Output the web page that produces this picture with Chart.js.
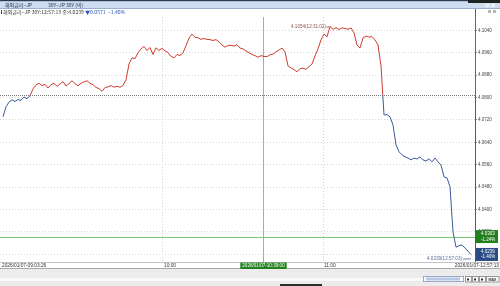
<!DOCTYPE html>
<html>
<head>
<meta charset="utf-8">
<script src="https://cdn.jsdelivr.net/npm/chart.js@4.4.1/dist/chart.umd.min.js"></script>
<style>
  html, body { margin: 0; padding: 0; background: #fff; }
  #wrap { position: relative; width: 500px; height: 286px; overflow: hidden; }
</style>
</head>
<body>
<div id="wrap"><canvas id="c" width="500" height="286"></canvas></div>
<script>
// 30Y JP yield, one sample every ~1.5 minutes of the session
const yieldValues = [
  4.0731, 4.0767, 4.0784, 4.0792, 4.0786, 4.0793, 4.0790, 4.0802, 4.0796, 4.0806,
  4.0831, 4.0845, 4.0851, 4.0843, 4.0847, 4.0834, 4.0846, 4.0851, 4.0840, 4.0849,
  4.0857, 4.0841, 4.0850, 4.0860, 4.0850, 4.0842, 4.0851, 4.0856, 4.0860, 4.0851,
  4.0846, 4.0836, 4.0832, 4.0822, 4.0836, 4.0838, 4.0843, 4.0837, 4.0840, 4.0837,
  4.0843, 4.0863, 4.0920, 4.0942, 4.0939, 4.0960, 4.0974, 4.0983, 4.0968, 4.0979,
  4.0954, 4.0978, 4.0968, 4.0976, 4.0967, 4.0961, 4.0947, 4.0942, 4.0954, 4.0950,
  4.0960, 4.0985, 4.1013, 4.1027, 4.1015, 4.1014, 4.1008, 4.1011, 4.1008, 4.1007,
  4.1004, 4.1007, 4.0999, 4.0988, 4.0980, 4.0986, 4.0987, 4.0984, 4.0989, 4.0977,
  4.0974, 4.0966, 4.0961, 4.0954, 4.0950, 4.0944, 4.0950, 4.0947, 4.0946, 4.0953,
  4.0955, 4.0964, 4.0970, 4.0977, 4.0963, 4.0913, 4.0906, 4.0900, 4.0892, 4.0903,
  4.0905, 4.0901, 4.0910, 4.0920, 4.0949, 4.0974, 4.1006, 4.1027, 4.1017, 4.1054,
  4.1044, 4.1050, 4.1043, 4.1049, 4.1047, 4.1044, 4.1049, 4.1031, 4.0988, 4.0977,
  4.1013, 4.1020, 4.1016, 4.1018, 4.1006, 4.0988, 4.0913, 4.0738, 4.0739, 4.0731,
  4.0702, 4.0631, 4.0606, 4.0595, 4.0588, 4.0584, 4.0577, 4.0584, 4.0580, 4.0588,
  4.0577, 4.0573, 4.0581, 4.0570, 4.0584, 4.0570, 4.0559, 4.0516, 4.0513, 4.0481,
  4.0320, 4.0265, 4.0270, 4.0273, 4.0262, 4.0250, 4.0239
];
const prevClose = 4.0810;
const yTicks = [4.1040, 4.0960, 4.0880, 4.0800, 4.0720, 4.0640, 4.0560, 4.0480, 4.0400, 4.0320, 4.0240];
const timeIdx = [0, 53.33, 106.67, 156];
const timeLabels = ['2026/01/07-09:03:26', '10:00', '11:00', '2026/01/07-12:57:13'];
const gridIdx = [53.33, 106.67];
const cursorIdx = 86.67;
const cursorTime = '2026/01/07-10:39:00';
const cursorValue = 4.0303;
const cursorPct = '-1.24%';
const lastValue = 4.0239;
const lastPct = '-1.40%';
const highIdx = 109, highLabel = '4.1054(12:31:02)';
const lowIdx = 156, lowLabel = '4.0239(12:57:03)';

const RED = '#cc3b2e';
const BLUE = '#3a5b9c';
const GREEN = '#7acb7a';
const FONT = '"Liberation Sans", "DejaVu Sans", sans-serif';
const KFONT = '"Noto Sans CJK KR", "Liberation Sans", sans-serif';

function splitColor(context) {
  const chart = context.chart;
  const { chartArea, scales } = chart;
  if (!chartArea) return RED;
  const yb = scales.y.getPixelForValue(prevClose);
  const f = Math.min(1, Math.max(0, (yb - chartArea.top) / (chartArea.bottom - chartArea.top)));
  const g = chart.ctx.createLinearGradient(0, chartArea.top, 0, chartArea.bottom);
  g.addColorStop(0, RED);
  g.addColorStop(f, RED);
  g.addColorStop(f, BLUE);
  g.addColorStop(1, BLUE);
  return g;
}

// frame, header, cursor lines and labels
const decor = {
  id: 'decor',
  beforeDatasetsDraw(chart) {
    const { ctx, chartArea: a, scales: { x, y } } = chart;
    ctx.save();
    // previous close line
    const yb = Math.round(y.getPixelForValue(prevClose)) + 0.5;
    ctx.strokeStyle = '#777';
    ctx.lineWidth = 1;
    ctx.setLineDash([1, 1]);
    ctx.beginPath(); ctx.moveTo(a.left, yb); ctx.lineTo(a.right, yb); ctx.stroke();
    ctx.setLineDash([]);
    // cursor cross
    const cx = Math.round(x.getPixelForValue(cursorIdx));
    const cy = Math.round(y.getPixelForValue(cursorValue));
    ctx.fillStyle = GREEN;
    ctx.fillRect(cx, a.top, 1, a.bottom - a.top);
    ctx.fillRect(a.left, cy, a.right - a.left, 1);
    ctx.restore();
  },
  afterDraw(chart) {
    const { ctx, chartArea: a, scales: { x, y } } = chart;
    ctx.save();
    ctx.setLineDash([]);
    ctx.lineWidth = 1;
    const cx = Math.round(x.getPixelForValue(cursorIdx));

    // right axis line, red above previous close, blue below
    const yb = y.getPixelForValue(prevClose);
    const ax = Math.round(a.right);
    ctx.fillStyle = RED;
    ctx.fillRect(ax, 0, 1, yb);
    ctx.fillStyle = BLUE;
    ctx.fillRect(ax, yb, 1, a.bottom - yb);

    // high / low labels
    ctx.font = '4.6px ' + FONT;
    ctx.textBaseline = 'middle';
    const hx = x.getPixelForValue(highIdx), hy = y.getPixelForValue(yieldValues[highIdx]);
    ctx.fillStyle = '#8f5050';
    ctx.textAlign = 'right';
    ctx.fillText(highLabel, hx - 4, hy + 0.5);
    ctx.strokeStyle = '#b06060';
    ctx.beginPath(); ctx.moveTo(hx - 3.5, hy + 0.5); ctx.lineTo(hx, hy + 0.5); ctx.stroke();
    const lx = x.getPixelForValue(lowIdx), ly = y.getPixelForValue(yieldValues[lowIdx]) + 4;
    ctx.fillStyle = '#5a6e98';
    ctx.fillText(lowLabel, lx - 9, ly);
    ctx.strokeStyle = '#6a7ea8';
    ctx.beginPath(); ctx.moveTo(lx - 8, ly + 0.5); ctx.lineTo(lx, ly + 0.5); ctx.stroke();

    // value boxes on the right axis
    function valueBox(val, pct, bg) {
      const py = y.getPixelForValue(val);
      ctx.fillStyle = bg;
      ctx.fillRect(a.right + 1, py - 6.5, 22, 13);
      ctx.fillStyle = '#fff';
      ctx.textAlign = 'left';
      ctx.font = '4.5px ' + FONT;
      ctx.fillText(val.toFixed(4), a.right + 6, py - 2.8);
      ctx.fillText(pct, a.right + 6, py + 2.8);
    }
    valueBox(cursorValue, cursorPct, '#23801f');
    valueBox(lastValue, lastPct, '#2c4c86');

    // bottom frame and time labels
    ctx.fillStyle = '#c4c4c4';
    ctx.fillRect(0, Math.round(a.bottom), 500, 1);
    ctx.fillStyle = '#ececec';
    ctx.fillRect(0, 268.5, 500, 18);
    ctx.fillStyle = '#a8a8a8';
    ctx.fillRect(0, 268, 500, 1);
    ctx.fillStyle = '#f8f8f8';
    ctx.fillRect(0, 278, 500, 3);
    ctx.font = '4.8px ' + FONT;
    ctx.fillStyle = '#333';
    timeLabels.forEach((t, i) => {
      const px = x.getPixelForValue(timeIdx[i]);
      if (i === 0) { ctx.textAlign = 'left'; ctx.fillText(t, 2, 265.5); }
      else if (i === timeLabels.length - 1) { ctx.textAlign = 'right'; ctx.fillText(t, 499, 265.5); }
      else { ctx.textAlign = 'left'; ctx.fillText(t, px + 1, 265.5); }
    });
    // cursor time box
    ctx.font = '4.6px ' + FONT;
    const tw = ctx.measureText(cursorTime).width + 4;
    ctx.fillStyle = '#23801f';
    ctx.fillRect(cx + 0.5 - tw / 2, a.bottom + 0.5, tw, 6.5);
    ctx.fillStyle = '#fff';
    ctx.textAlign = 'center';
    ctx.fillText(cursorTime, cx + 0.5, a.bottom + 4);

    // scrollbar and buttons
    ctx.fillStyle = '#fff';
    ctx.fillRect(423, 276.5, 40, 5);
    ctx.strokeStyle = '#9aa8c0';
    ctx.strokeRect(423.5, 276.5, 40, 5);
    ctx.fillStyle = '#b8c8e4';
    ctx.fillRect(426, 277.5, 34, 3);
    [465, 472, 479].forEach(bx => {
      ctx.fillStyle = '#fafafa';
      ctx.fillRect(bx, 276.5, 6, 5.5);
      ctx.strokeStyle = '#999';
      ctx.strokeRect(bx + 0.5, 276.5, 6, 5.5);
      ctx.fillStyle = '#333';
      ctx.fillRect(bx + 2, 278.5, 2, 2);
    });
    ctx.fillStyle = '#fafafa';
    ctx.fillRect(486, 276.5, 13, 5.5);
    ctx.strokeRect(486.5, 276.5, 12.5, 5.5);
    ctx.fillStyle = '#333';
    ctx.font = 'bold 3.6px ' + FONT;
    ctx.fillText('MAX', 492.5, 279.5);
    ctx.fillStyle = '#2b2b2b';
    ctx.fillRect(280, 284, 42, 2);

    // title bar
    ctx.fillStyle = '#2e3b58';
    ctx.fillRect(0, 0, 500, 1.5);
    ctx.fillStyle = '#cddcee';
    ctx.fillRect(0, 1.5, 500, 6.5);
    ctx.fillStyle = '#97b0cf';
    ctx.fillRect(0, 8, 500, 1);
    ctx.fillStyle = '#1f2020';
    ctx.fillRect(468, 0, 32, 3);
    ctx.fillStyle = '#e8eef8';
    ctx.fillRect(485, 3.5, 4, 3.5);
    ctx.fillRect(491, 3.5, 4, 3.5);
    ctx.fillStyle = '#22304c';
    ctx.font = '5px ' + KFONT;
    ctx.textAlign = 'left';
    ctx.fillText('해외금리−JP', 5, 5);
    ctx.fillText('30Y−JP 30Y (익)', 48, 5);

    // info row
    ctx.fillStyle = '#234a9a';
    ctx.fillRect(1, 10, 1, 4);
    ctx.font = '5.1px ' + KFONT;
    let tx = 3;
    const parts = [
      ['해외금리−JP 30Y:12:57:13 종:4.0239 ', '#333'],
      ['▼0.0571', '#2b55b0'],
      ['  −1.40%', '#2b55b0']
    ];
    parts.forEach(([s, col]) => {
      ctx.fillStyle = col;
      ctx.fillText(s, tx, 12);
      tx += ctx.measureText(s).width;
    });
    ctx.fillStyle = '#b8b8b8';
    ctx.fillRect(488, 10, 3, 3);
    ctx.fillRect(493, 10, 3, 3);
    ctx.restore();
  }
};

new Chart(document.getElementById('c'), {
  type: 'line',
  data: {
    datasets: [{
      data: yieldValues.map((v, i) => ({ x: i, y: v })),
      borderColor: splitColor,
      borderWidth: 1,
      pointRadius: 0,
      tension: 0,
      fill: false
    }]
  },
  options: {
    responsive: false,
    animation: false,
    layout: { padding: { top: 17, bottom: 24, left: 0, right: 0 } },
    plugins: { legend: { display: false }, tooltip: { enabled: false } },
    scales: {
      x: {
        type: 'linear',
        min: -1,
        max: 157.33,
        afterBuildTicks: s => { s.ticks = gridIdx.map(v => ({ value: v })); },
        afterFit: s => { s.height = 0; },
        ticks: { display: false },
        grid: { color: '#d2d2d2', drawTicks: false },
        border: { display: false, dash: [1, 2] }
      },
      y: {
        position: 'right',
        min: 4.0212,
        max: 4.1088,
        afterBuildTicks: s => { s.ticks = yTicks.map(v => ({ value: v })); },
        afterFit: s => { s.width = 25; },
        ticks: {
          font: { size: 4.5, family: FONT },
          color: '#444',
          padding: 1,
          crossAlign: 'near',
          callback: v => Number(v).toFixed(4)
        },
        grid: { color: '#d6d6d6', tickLength: 2, tickColor: '#888' },
        border: { display: false, dash: [1, 2] }
      }
    }
  },
  plugins: [decor]
});
</script>
</body>
</html>
